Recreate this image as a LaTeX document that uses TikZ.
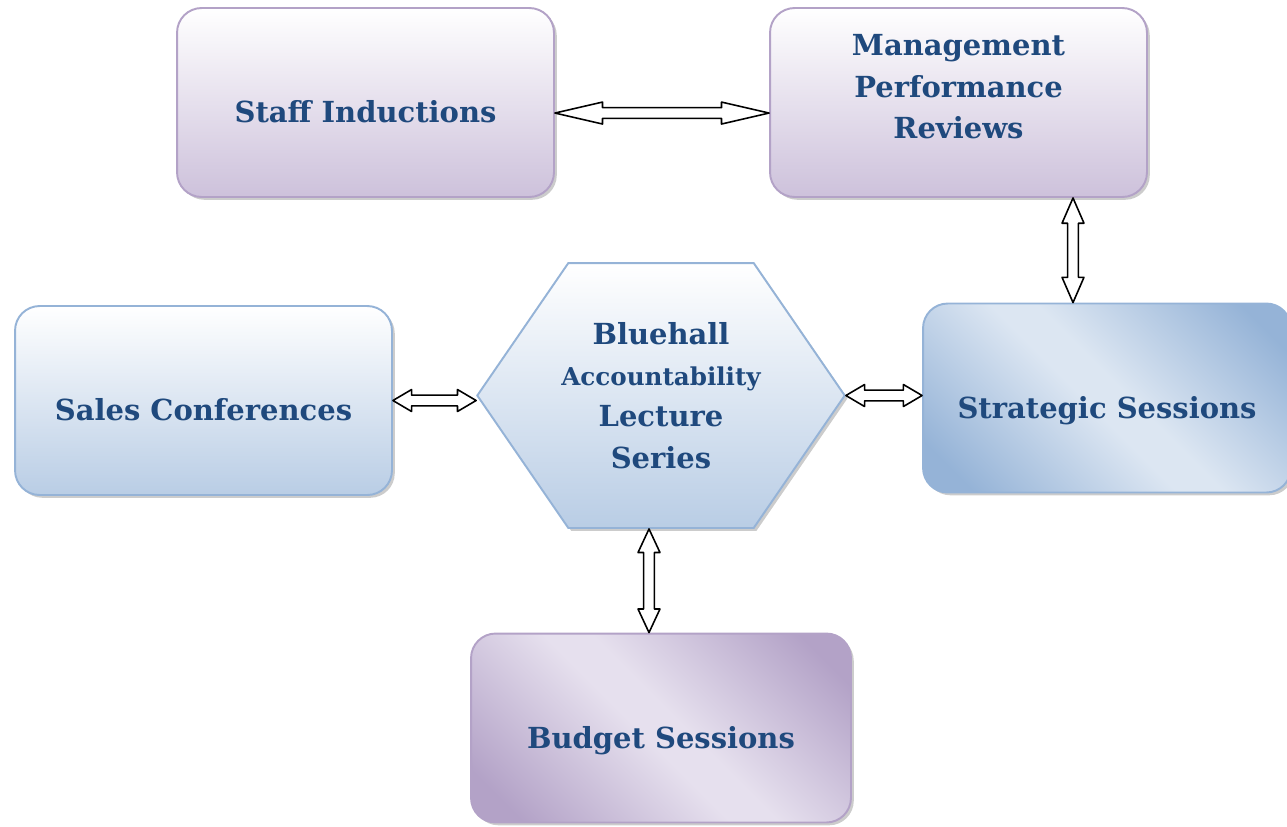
\documentclass[tikz,border=0pt]{standalone}
\usepackage{fontspec}
\setmainfont{DejaVu Serif}
\usetikzlibrary{calc,shapes.arrows,shapes.symbols,shadows}

\definecolor{navy}{HTML}{1F497D}
\definecolor{lilac}{HTML}{B3A2C7}
\definecolor{lilacpale}{HTML}{CDC1DB}
\definecolor{lilaclight}{HTML}{E6E0EE}
\definecolor{sky}{HTML}{95B3D7}
\definecolor{skypale}{HTML}{B9CDE5}
\definecolor{skylight}{HTML}{DCE6F2}

% mirrored diagonal fills
\pgfdeclarehorizontalshading{skydiag}{100bp}{color(0bp)=(sky); color(21bp)=(sky); color(47bp)=(skylight); color(53bp)=(skylight); color(79bp)=(sky); color(100bp)=(sky)}
\pgfdeclarehorizontalshading{lilacdiag}{100bp}{color(0bp)=(lilac); color(21bp)=(lilac); color(47bp)=(lilaclight); color(53bp)=(lilaclight); color(79bp)=(lilac); color(100bp)=(lilac)}

\tikzset{
  dblarrow/.style={double arrow, draw, fill=white, line width=0.9pt, line join=round,
    inner sep=0pt, inner ysep=2.6pt, double arrow head extend=3.2pt},
  link/.style={to path={let \p1=(\tikztostart), \p2=(\tikztotarget),
    \n1={veclen(\x2-\x1,\y2-\y1)} in
    node[dblarrow, #1, minimum height=\n1] at ($(\p1)!0.5!(\p2)$) {}}}
}

\begin{document}
\begin{tikzpicture}[x=0.02cm, y=-0.02cm]
\tikzstyle{box} = [rounded corners=14pt, line width=1.1pt, minimum width=7.54cm, minimum height=3.78cm,
  align=center, text=navy, font=\bfseries\fontsize{16.5}{23.5}\selectfont,
  drop shadow={shadow xshift=1.6pt, shadow yshift=-1.6pt, fill=black!40}]
\tikzstyle{lilacbox} = [box, draw=lilac, top color=white, bottom color=lilacpale]
\tikzstyle{skybox} = [box, draw=sky, top color=white, bottom color=skypale]
\tikzstyle{low} = [text height=23pt, text depth=0pt]
\useasboundingbox (0,0) rectangle (1287,826);

\node[lilacbox, low] (staff) at (365.5,102.5) {Staff Inductions};
\node[lilacbox, text depth=18pt] (mgmt) at (958.5,102.5) {Management\\Performance\\Reviews};
\node[skybox, low] (sales) at (203.5,400.5) {Sales Conferences};
\node[box, low, draw=sky, shading=skydiag, shading angle=45, minimum width=7.36cm] (strategic) at (1107,398) {Strategic Sessions};
\node[box, low, draw=lilac, shading=lilacdiag, shading angle=45, minimum width=7.6cm] (budget) at (661,728) {Budget Sessions};
\node[box, signal, signal to=west and east, signal pointer angle=111, rounded corners=0pt,
  minimum width=0pt, inner xsep=-4pt, minimum height=5.3cm, draw=sky, top color=white, bottom color=skypale]
  (bluehall) at (661,395.5) {Bluehall\\{\fontsize{14}{23.5}\selectfont Accountability}\\Lecture\\Series};

\path ([yshift=-6pt]staff.east) to[link={double arrow tip angle=26}] ([yshift=-6pt]mgmt.west);
\path ($(mgmt.south)+(114.5,0)$) coordinate (mr) to[link={double arrow tip angle=47, rotate=90}] (mr |- strategic.north);
\path (sales.east) to[link={double arrow tip angle=61}] (sales.east -| bluehall.west);
\path (bluehall.east) to[link={double arrow tip angle=61}] (bluehall.east -| strategic.west);
\path ($(bluehall.south)+(-12,0)$) coordinate (bs) to[link={double arrow tip angle=50, rotate=90}] (bs |- budget.north);
\end{tikzpicture}
\end{document}
